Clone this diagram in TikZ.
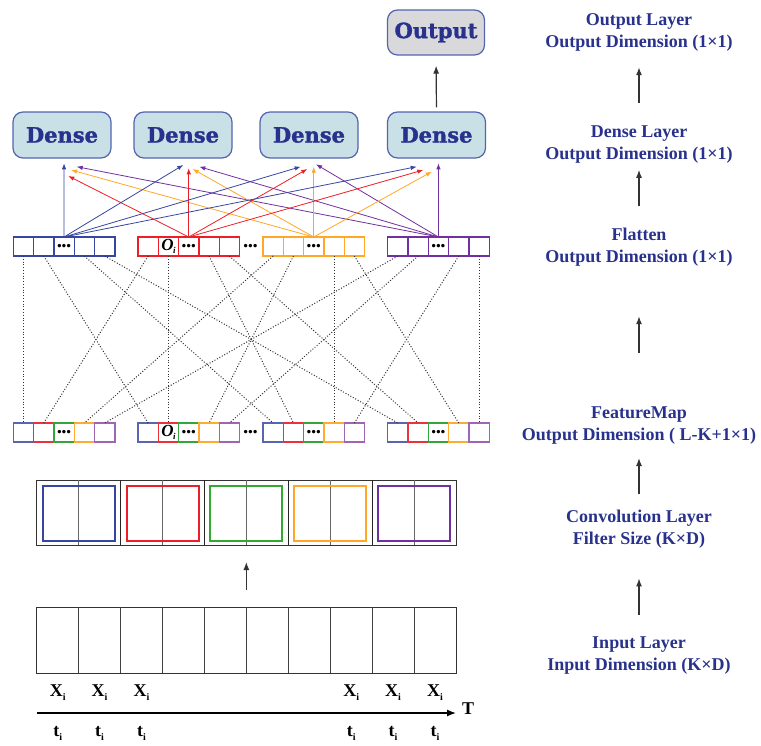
\documentclass[tikz,border=0pt]{standalone}
\usepackage{fontspec}
\setmainfont{Liberation Serif}
\newfontfamily\boxfont{DejaVu Serif}[BoldFeatures={FakeBold=1.6}]
\usetikzlibrary{arrows.meta}

\definecolor{navy}{RGB}{40,50,140}
\definecolor{boxedge}{RGB}{85,100,175}
\definecolor{densefill}{RGB}{200,224,230}
\definecolor{outfill}{RGB}{217,217,219}
% flatten row / filter colours
\definecolor{cblue}{RGB}{55,70,160}
\definecolor{cred}{RGB}{238,30,40}
\definecolor{corange}{RGB}{255,168,40}
\definecolor{cpurple}{RGB}{112,48,160}
\definecolor{cgreen}{RGB}{50,170,50}
% feature-map cell colours
\definecolor{fblue}{RGB}{90,100,175}
\definecolor{fred}{RGB}{235,50,60}
\definecolor{fgreen}{RGB}{50,165,60}
\definecolor{forange}{RGB}{255,170,50}
\definecolor{fpurple}{RGB}{160,100,180}

\newcommand\dotsmark{{\bfseries\fontsize{21}{21}\selectfont .\kern-0.6pt.\kern-0.6pt.}}
\newcommand\omark{{\bfseries\itshape\fontsize{17}{17}\selectfont O\kern-0.5pt\raisebox{-3pt}{\fontsize{9}{9}\selectfont i}}}
\newcommand\cellmark[2]{\ifnum#2=3 \dotsmark\else\ifnum#1=2 \ifnum#2=2 \omark\fi\fi\fi}

\begin{document}
\begin{tikzpicture}[x=1pt,y=-1pt,
  layerbox/.style={draw=boxedge, line width=1.2pt, rounded corners=10pt,
    minimum width=98pt, minimum height=46pt, inner sep=0pt,
    font=\boxfont\bfseries\fontsize{21}{24}\selectfont, text=navy},
  cell/.style={line width=1.4pt, minimum width=20.3pt, minimum height=19pt,
    inner sep=0pt, outer sep=0pt},
  dotline/.style={line width=1pt, black!80, dash pattern=on 1pt off 1.8pt},
  flatarrow/.style={line width=0.8pt, -{Latex[length=6pt,width=4.5pt]}},
  blackarrow/.style={line width=1.2pt, black!80, -{Latex[length=8pt,width=6pt]}},
  layertext/.style={align=center, text=navy,
    font=\bfseries\fontsize{18}{22}\selectfont},
  gridbox/.style={draw=black!80, line width=1pt, inner sep=0pt, outer sep=0pt},
  label/.style={font=\bfseries\fontsize{18}{18}\selectfont, inner sep=0pt}
]
\useasboundingbox (0,0) rectangle (761,745);

% ---------- output and dense layers ----------
\node[layerbox, fill=outfill, minimum width=97pt, minimum height=45pt] (out) at (436,32.5) {Output};
\node[layerbox, fill=densefill] (d1) at (62,135) {Dense};
\node[layerbox, fill=densefill] (d2) at (183,135) {Dense};
\node[layerbox, fill=densefill] (d3) at (309,135) {Dense};
\node[layerbox, fill=densefill] (d4) at (436.5,135) {Dense};
\draw[blackarrow, shorten <=4pt, shorten >=10pt] (d4.north) -- (out.south);

% ---------- flatten row (t) and feature-map row (b) ----------
\foreach \g/\gx/\gc in {1/13.3/cblue, 2/138/cred, 3/263/corange, 4/387.7/cpurple} {
  \foreach \c/\fc in {1/fblue, 2/fred, 3/fgreen, 4/forange, 5/fpurple} {
    \node[cell, draw=\gc] (t\g-\c) at (\gx+20.3*\c-10.15, 246.5) {\cellmark{\g}{\c}};
    \node[cell, draw=\fc] (b\g-\c) at (\gx+20.3*\c-10.15, 432.5) {\cellmark{\g}{\c}};
  }
}
\node (tgap) at (250.5,246.5) {\dotsmark};
\node (bgap) at (250.5,432.5) {\dotsmark};

% dotted links: flatten group g, cell p  <->  feature group p, cell g
\foreach \g/\cg in {1/1, 2/2, 3/4, 4/5} {
  \foreach \p/\cp in {1/1, 2/2, 3/4, 4/5} {
    \draw[dotline] (t\g-\cp.south) -- (b\p-\cg.north);
  }
}

% ---------- links from flatten row to dense units ----------
\coordinate (tip-1-1) at (64.05,163.3);
\coordinate (tip-1-2) at (68.3,176);
\coordinate (tip-1-3) at (71,170);
\coordinate (tip-1-4) at (76.7,166.7);
\coordinate (tip-2-1) at (183.3,165);
\coordinate (tip-2-2) at (188.75,168.3);
\coordinate (tip-2-3) at (192.7,169);
\coordinate (tip-2-4) at (199.3,166.7);
\coordinate (tip-3-1) at (300.7,166.7);
\coordinate (tip-3-2) at (307.3,169);
\coordinate (tip-3-3) at (313.75,166.7);
\coordinate (tip-3-4) at (316,164.3);
\coordinate (tip-4-1) at (416.7,166.7);
\coordinate (tip-4-2) at (423.3,170);
\coordinate (tip-4-3) at (431.7,171.7);
\coordinate (tip-4-4) at (438.45,163.3);
\foreach \k in {1,...,4} {
  \foreach \g/\col in {1/cblue, 2/cred, 3/corange, 4/cpurple} {
    \draw[flatarrow, draw=\col] (t\g-3.north) -- (tip-\k-\g);
  }
}

% ---------- convolution layer ----------
\node[gridbox, minimum width=419.3pt, minimum height=65pt] (conv) at (246.35,512.5) {};
\foreach \i in {1,3,5,7,9}
  \draw[black!60, line width=0.9pt] (36.7+41.93*\i,480) -- (36.7+41.93*\i,545);
\foreach \i in {2,4,6,8}
  \draw[black!85, line width=1.2pt] (36.7+41.93*\i,480) -- (36.7+41.93*\i,545);
\foreach \i/\col in {0/cblue, 1/cred, 2/cgreen, 3/corange, 4/cpurple}
  \draw[\col, line width=2pt] (42.7+83.86*\i,485.5) rectangle (114.7+83.86*\i,541);

% ---------- input layer ----------
\node[gridbox, line width=0.9pt, minimum width=419.3pt, minimum height=66pt] (inp) at (246.35,640) {};
\foreach \i in {1,...,9}
  \draw[black!75, line width=0.8pt] (36.7+41.93*\i,607) -- (36.7+41.93*\i,673);
\draw[blackarrow, shorten <=17pt, shorten >=17pt] (inp.north) -- (conv.south);

% time axis and samples
\coordinate (ax0) at (36.7,713);
\coordinate (ax1) at (456,713);
\draw[line width=1.3pt, -{Latex[length=9pt,width=7pt]}] (ax0) -- (ax1);
\node[label] (axT) at (468,709) {T};
\foreach \k in {1,2,3,8,9,10} {
  \node[label] (x\k) at (36.7+41.93*\k-20.97,693) {X\raisebox{-4pt}{\fontsize{10}{10}\selectfont i}};
  \node[label] (tt\k) at (36.7+41.93*\k-20.97,733) {t\raisebox{-4pt}{\fontsize{10}{10}\selectfont i}};
}

% ---------- layer descriptions ----------
\node[layertext] (outL) at (639,32.8) {Output Layer\\Output Dimension (1×1)};
\node[layertext] (denL) at (639,144.5) {Dense Layer\\Output Dimension (1×1)};
\node[layertext] (flaL) at (639,247.5) {Flatten\\Output Dimension (1×1)};
\node[layertext] (feaL) at (639,426) {FeatureMap\\Output Dimension ( L-K+1×1)};
\node[layertext] (conL) at (639,529) {Convolution Layer\\Filter Size (K×D)};
\node[layertext] (inL) at (639,655.5) {Input Layer\\Input Dimension (K×D)};

\draw[blackarrow, shorten <=19pt, shorten >=12pt] (denL.north) -- (outL.south);
\draw[blackarrow, shorten <=19pt, shorten >=3pt] (flaL.north) -- (denL.south);
\draw[blackarrow, shorten <=50.7pt, shorten >=46pt] (feaL.north) -- (flaL.south);
\draw[blackarrow, shorten <=12.7pt, shorten >=9.7pt] (conL.north) -- (feaL.south);
\draw[blackarrow, shorten <=18.2pt, shorten >=26.7pt] (inL.north) -- (conL.south);
\end{tikzpicture}
\end{document}
